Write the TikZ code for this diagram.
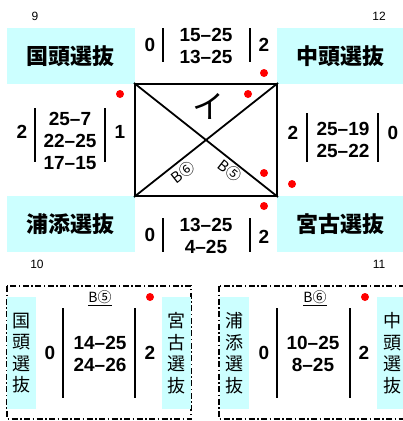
\documentclass[tikz,border=0pt]{standalone}
\usepackage{fontspec}
\setmainfont{Liberation Sans}
\newfontfamily\jp{Noto Sans CJK JP}
\definecolor{lcyan}{RGB}{204,255,255}
\definecolor{dred}{RGB}{255,0,0}
\begin{document}
\begin{tikzpicture}[x=1pt,y=-1pt,
  team/.style={fill=lcyan, inner sep=0pt, font=\jp\bfseries\fontsize{22}{26}\selectfont},
  vteam/.style={fill=lcyan, inner sep=0pt, minimum width=29pt, minimum height=112pt, align=center, font=\jp\fontsize{18}{21.5}\selectfont},
  score/.style={inner sep=0pt, align=center, font=\bfseries\fontsize{19}{22}\selectfont},
  num/.style={inner sep=0pt, font=\fontsize{12}{14}\selectfont},
  bar/.style={line width=2pt},
  dot/.style={circle, fill=dred, inner sep=0pt, minimum size=8pt},
  frame/.style={line width=1.6pt, dash pattern=on 6pt off 2.5pt on 1.5pt off 2.5pt},
  blab/.style={inner sep=0pt, font=\jp\fontsize{15}{17}\selectfont}
]
\useasboundingbox (0,0) rectangle (403,421);
\clip (0,0) rectangle (403,421);
% team boxes
\node[team, minimum width=128pt, minimum height=56pt] (tl) at (71,56) {国頭選抜};
\node[team, minimum width=126pt, minimum height=56pt] (tr) at (340,56) {中頭選抜};
\node[team, minimum width=128pt, minimum height=56pt] (bl) at (71,224) {浦添選抜};
\node[team, minimum width=126pt, minimum height=56pt] (br) at (340,224) {宮古選抜};
\node[num] (n9) at (35,16) {9};
\node[num] (n12) at (379,16) {12};
\node[num] (n10) at (37,264) {10};
\node[num] (n11) at (379,264) {11};
% square
\node[draw, line width=2pt, minimum width=142pt, minimum height=112pt, inner sep=0pt] (sq) at (206,140) {};
\draw[line width=1.8pt] (sq.north west) -- (sq.south east);
\draw[line width=1.8pt] (sq.south west) -- (sq.north east);
\node[inner sep=0pt, font=\jp\fontsize{32}{34}\selectfont] (i) at (208,106) {イ};
\node[blab, rotate=38] (b6) at (183,172) {B⑥};
\node[blab, rotate=-38] (b5) at (230,171) {B⑤};
% top score
\node[score] (t0) at (150,45) {0};
\node[score] (ts) at (206,46) {15–25\\13–25};
\node[score] (t2) at (264,45) {2};
\coordinate (ta1) at (163,28); \coordinate (ta2) at (163,62);
\coordinate (tb1) at (250,28); \coordinate (tb2) at (250,62);
\draw[bar] (ta1) -- (ta2); \draw[bar] (tb1) -- (tb2);
\node[dot] (d1) at (264,73) {};
% left score
\node[score] (l2) at (22,132) {2};
\node[score] (ls) at (70,141) {25–7\\22–25\\17–15};
\node[score] (l1) at (120,132) {1};
\coordinate (la1) at (35,108); \coordinate (la2) at (35,162);
\coordinate (lb1) at (105,108); \coordinate (lb2) at (105,162);
\draw[bar] (la1) -- (la2); \draw[bar] (lb1) -- (lb2);
\node[dot] (d2) at (120,94) {};
% right score
\node[score] (r2) at (293,133) {2};
\node[score] (rs) at (343,140) {25–19\\25–22};
\node[score] (r0) at (393,133) {0};
\coordinate (ra1) at (307,113); \coordinate (ra2) at (307,162);
\coordinate (rb1) at (378,113); \coordinate (rb2) at (378,162);
\draw[bar] (ra1) -- (ra2); \draw[bar] (rb1) -- (rb2);
\node[dot] (d3) at (248,94) {};
\node[dot] (d4) at (264,173) {};
\node[dot] (d5) at (292,184) {};
% bottom score
\node[score] (u0) at (150,235) {0};
\node[score] (us) at (206,236) {13–25\\4–25};
\node[score] (u2) at (264,237) {2};
\coordinate (ua1) at (163,218); \coordinate (ua2) at (163,252);
\coordinate (ub1) at (250,218); \coordinate (ub2) at (250,252);
\draw[bar] (ua1) -- (ua2); \draw[bar] (ub1) -- (ub2);
\node[dot] (d6) at (264,206) {};
% bottom-left match
\draw[frame] (7,286) rectangle (191,419);
\node[vteam] (v1) at (21.5,353) {国\\頭\\選\\抜};
\node[vteam] (v2) at (176.5,353) {宮\\古\\選\\抜};
\node[blab, font=\jp\fontsize{14}{16}\selectfont] (m5) at (100,298) {\underline{B⑤}};
\node[dot] (d7) at (150,297) {};
\node[score] (p0) at (50,353) {0};
\node[score] (ps) at (100,354) {14–25\\24–26};
\node[score] (p2) at (150,353) {2};
\coordinate (pa1) at (63,308); \coordinate (pa2) at (63,398);
\coordinate (pb1) at (135,308); \coordinate (pb2) at (135,398);
\draw[bar] (pa1) -- (pa2); \draw[bar] (pb1) -- (pb2);
% bottom-right match
\draw[frame] (219,286) rectangle (410,419);
\node[vteam] (v3) at (234.5,353) {浦\\添\\選\\抜};
\node[vteam, minimum width=30pt] (v4) at (392,353) {中\\頭\\選\\抜};
\node[blab, font=\jp\fontsize{14}{16}\selectfont] (m6) at (315,298) {\underline{B⑥}};
\node[dot] (d8) at (365,297) {};
\node[score] (q0) at (264,353) {0};
\node[score] (qs) at (313,354) {10–25\\8–25};
\node[score] (q2) at (364,353) {2};
\coordinate (qa1) at (277,308); \coordinate (qa2) at (277,398);
\coordinate (qb1) at (350,308); \coordinate (qb2) at (350,398);
\draw[bar] (qa1) -- (qa2); \draw[bar] (qb1) -- (qb2);
\end{tikzpicture}
\end{document}
